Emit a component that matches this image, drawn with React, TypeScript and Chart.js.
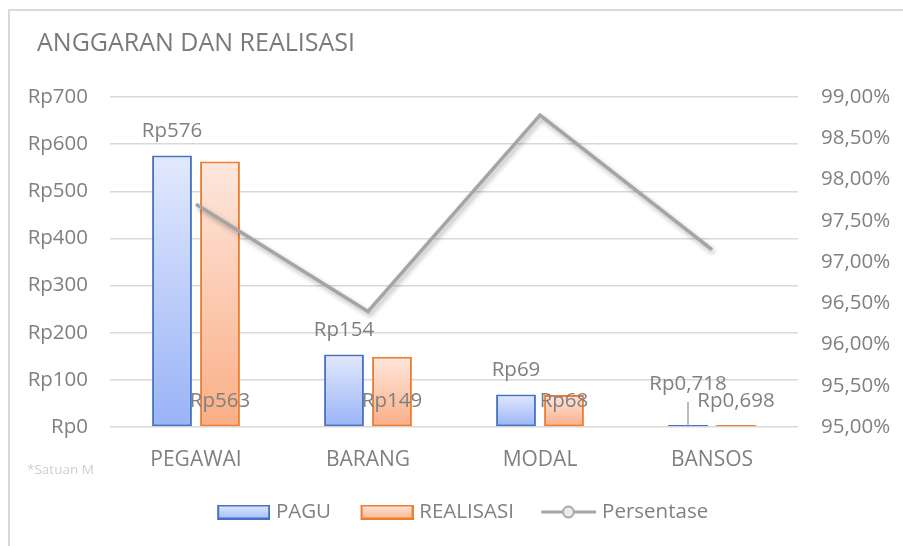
import React, { useEffect, useRef } from 'react';
import { Chart, registerables } from 'chart.js';

Chart.register(...registerables);

// ---- data ----
const chartTitle = 'ANGGARAN DAN REALISASI';
const unitNote = '*Satuan M';
const categories = ['PEGAWAI', 'BARANG', 'MODAL', 'BANSOS'];
const seriesNames = ['PAGU', 'REALISASI', 'Persentase'];
const pagu = [576, 154, 69, 0.718];
const realisasi = [563, 149, 68, 0.698];
const persentase = [97.7, 96.4, 98.78, 97.15];
const leftTicks = [0, 100, 200, 300, 400, 500, 600, 700];
const rightTicks = [95, 95.5, 96, 96.5, 97, 97.5, 98, 98.5, 99];

// ---- style ----
const FONT = "'Open Sans', 'Noto Sans', sans-serif";
const TEXT = '#808080';
const GRID = '#d9d9d9';
const W = 903;
const H = 546;
const LEG_FS = 20.5;
const LEG_BOX = 72;
const ICON_W = Math.round(LEG_BOX + LEG_FS - 12);

const rp = (v: number) => 'Rp' + String(v).replace('.', ',');
const pct = (v: number) => v.toFixed(2).replace('.', ',') + '%';

function barGradient(top: string, bottom: string) {
  return (c: any) => {
    const chart = c.chart;
    const y = chart.scales && chart.scales.y;
    if (!y || c.type !== 'data') return bottom;
    const t = y.getPixelForValue(c.raw as number);
    const b = y.getPixelForValue(0);
    if (!isFinite(t) || !isFinite(b) || b - t < 2) return bottom;
    const g = chart.ctx.createLinearGradient(0, t, 0, b);
    g.addColorStop(0, top);
    g.addColorStop(1, bottom);
    return g;
  };
}

function boxIcon(top: string, bottom: string, border: string) {
  const cv = document.createElement('canvas');
  cv.width = ICON_W;
  cv.height = 15;
  const c = cv.getContext('2d')!;
  const x0 = ICON_W - 52;
  const g = c.createLinearGradient(0, 1, 0, 14);
  g.addColorStop(0, top);
  g.addColorStop(1, bottom);
  c.fillStyle = g;
  c.fillRect(x0, 1, 51, 13);
  c.strokeStyle = border;
  c.lineWidth = 2;
  c.strokeRect(x0, 1, 51, 13);
  return cv;
}

function lineIcon() {
  const cv = document.createElement('canvas');
  cv.width = ICON_W;
  cv.height = 16;
  const c = cv.getContext('2d')!;
  const x0 = ICON_W - 55;
  c.strokeStyle = '#a5a5a5';
  c.lineWidth = 3;
  c.beginPath();
  c.moveTo(x0, 8);
  c.lineTo(ICON_W, 8);
  c.stroke();
  c.beginPath();
  c.arc(x0 + 27, 8, 5.5, 0, Math.PI * 2);
  c.fillStyle = '#ececec';
  c.fill();
  c.lineWidth = 1.8;
  c.stroke();
  return cv;
}

const dataLabelPlugin = {
  id: 'dataLabels',
  afterDatasetsDraw(chart: any) {
    const ctx = chart.ctx;
    const base = chart.scales.y.getPixelForValue(0);
    ctx.save();
    ctx.font = `20.5px ${FONT}`;
    ctx.fillStyle = TEXT;
    ctx.textAlign = 'center';
    ctx.textBaseline = 'middle';
    chart.getDatasetMeta(0).data.forEach((bar: any, i: number) => {
      const text = rp(pagu[i]);
      if (base - bar.y < 10) {
        ctx.strokeStyle = '#a6a6a6';
        ctx.lineWidth = 1.5;
        ctx.beginPath();
        ctx.moveTo(bar.x, base - 25);
        ctx.lineTo(bar.x, base);
        ctx.stroke();
        ctx.fillText(text, bar.x, base - 43);
      } else {
        ctx.fillText(text, bar.x, bar.y - 24);
      }
    });
    chart.getDatasetMeta(1).data.forEach((bar: any, i: number) => {
      ctx.fillText(rp(realisasi[i]), bar.x, base - 26);
    });
    ctx.restore();
  },
};

const shadowPlugin = {
  id: 'lineShadow',
  beforeDatasetDraw(chart: any, args: any) {
    if (args.index === 2) {
      const c = chart.ctx;
      c.save();
      c.shadowColor = 'rgba(0,0,0,0.3)';
      c.shadowBlur = 5;
      c.shadowOffsetX = 2;
      c.shadowOffsetY = 3;
    }
  },
  afterDatasetDraw(chart: any, args: any) {
    if (args.index === 2) chart.ctx.restore();
  },
};

const titleShiftPlugin = {
  id: 'titleShift',
  afterLayout(chart: any) {
    if (chart.titleBlock) chart.titleBlock.left = 37;
  },
};

const notePlugin = {
  id: 'unitNote',
  afterDraw(chart: any) {
    const c = chart.ctx;
    c.save();
    c.font = `13.5px ${FONT}`;
    c.fillStyle = '#cfcfcf';
    c.textAlign = 'left';
    c.textBaseline = 'middle';
    c.fillText(unitNote, 27, 470);
    c.restore();
  },
};

export default function App() {
  const ref = useRef<HTMLCanvasElement>(null);

  useEffect(() => {
    if (!ref.current) return;
    const icons = [
      boxIcon('#dfe7fd', '#a7bff7', '#4472c4'),
      boxIcon('#fee6db', '#fbb892', '#ed7d31'),
      lineIcon(),
    ];
    const chart = new Chart(ref.current, {
      type: 'bar',
      data: {
        labels: categories,
        datasets: [
          {
            type: 'bar',
            label: seriesNames[0],
            data: pagu,
            yAxisID: 'y',
            order: 1,
            backgroundColor: barGradient('#e2e9fd', '#99b3f6'),
            borderColor: '#4472c4',
            borderWidth: 2,
            borderSkipped: false,
            minBarLength: 2,
            categoryPercentage: 0.558,
            barPercentage: 0.83,
          },
          {
            type: 'bar',
            label: seriesNames[1],
            data: realisasi,
            yAxisID: 'y',
            order: 1,
            backgroundColor: barGradient('#fee7dd', '#faae86'),
            borderColor: '#ed7d31',
            borderWidth: 2,
            borderSkipped: false,
            minBarLength: 2,
            categoryPercentage: 0.558,
            barPercentage: 0.83,
          },
          {
            type: 'line',
            label: seriesNames[2],
            data: persentase,
            yAxisID: 'y1',
            order: 0,
            borderColor: '#a5a5a5',
            borderWidth: 3.5,
            pointRadius: 0,
            tension: 0,
            fill: false,
          } as any,
        ],
      },
      options: {
        responsive: false,
        maintainAspectRatio: false,
        animation: false,
        events: [],
        layout: { padding: { left: 0, right: 1.2, top: 16, bottom: 13.75 } },
        plugins: {
          title: {
            display: true,
            text: chartTitle,
            align: 'start',
            color: '#7a7a7a',
            font: { family: FONT, size: 25, weight: 'normal' },
            padding: { top: 13, bottom: 38 },
          },
          legend: {
            display: true,
            position: 'bottom',
            labels: {
              usePointStyle: true,
              pointStyleWidth: LEG_BOX,
              padding: 6,
              color: TEXT,
              font: { family: FONT, size: LEG_FS },
              generateLabels: (ch: any) =>
                ch.data.datasets.map((ds: any, i: number) => ({
                  text: ds.label,
                  pointStyle: icons[i],
                  datasetIndex: i,
                  hidden: false,
                  fillStyle: 'transparent',
                  strokeStyle: 'transparent',
                  lineWidth: 0,
                  fontColor: TEXT,
                })),
            },
          },
          tooltip: { enabled: false },
        },
        scales: {
          x: {
            grid: { display: false, drawTicks: false },
            border: { display: false },
            ticks: { color: TEXT, padding: 20.4, font: { family: FONT, size: 21 } },
            afterFit: (s: any) => {
              s.height = 68.75;
            },
          },
          y: {
            position: 'left',
            min: leftTicks[0],
            max: leftTicks[leftTicks.length - 1],
            afterBuildTicks: (s: any) => {
              s.ticks = leftTicks.map((v) => ({ value: v }));
            },
            ticks: {
              color: TEXT,
              padding: 22,
              font: { family: FONT, size: 20.5 },
              callback: (v: any) => 'Rp' + v,
            },
            grid: { color: GRID, lineWidth: 1.5, drawTicks: false },
            border: { display: false },
            afterFit: (s: any) => {
              s.width = 110;
            },
          },
          y1: {
            position: 'right',
            min: rightTicks[0],
            max: rightTicks[rightTicks.length - 1],
            afterBuildTicks: (s: any) => {
              s.ticks = rightTicks.map((v) => ({ value: v }));
            },
            ticks: {
              color: TEXT,
              padding: 23,
              font: { family: FONT, size: 20.5 },
              callback: (v: any) => pct(Number(v)),
            },
            grid: { display: false, drawTicks: false },
            border: { display: false },
            afterFit: (s: any) => {
              s.width = 103.8;
            },
          },
        },
      } as any,
      plugins: [titleShiftPlugin, shadowPlugin, dataLabelPlugin, notePlugin],
    });
    return () => chart.destroy();
  }, []);

  return (
    <div style={{ position: 'fixed', left: 0, top: 0, width: W, height: H, background: '#ffffff', overflow: 'hidden' }}>
      <div
        style={{
          position: 'absolute',
          left: 8,
          top: 9,
          right: 0,
          bottom: 0,
          borderTop: '2px solid #d9d9d9',
          borderLeft: '2px solid #d9d9d9',
        }}
      />
      <canvas ref={ref} width={W} height={H} style={{ position: 'absolute', left: 0, top: 0, width: W, height: H }} />
    </div>
  );
}
